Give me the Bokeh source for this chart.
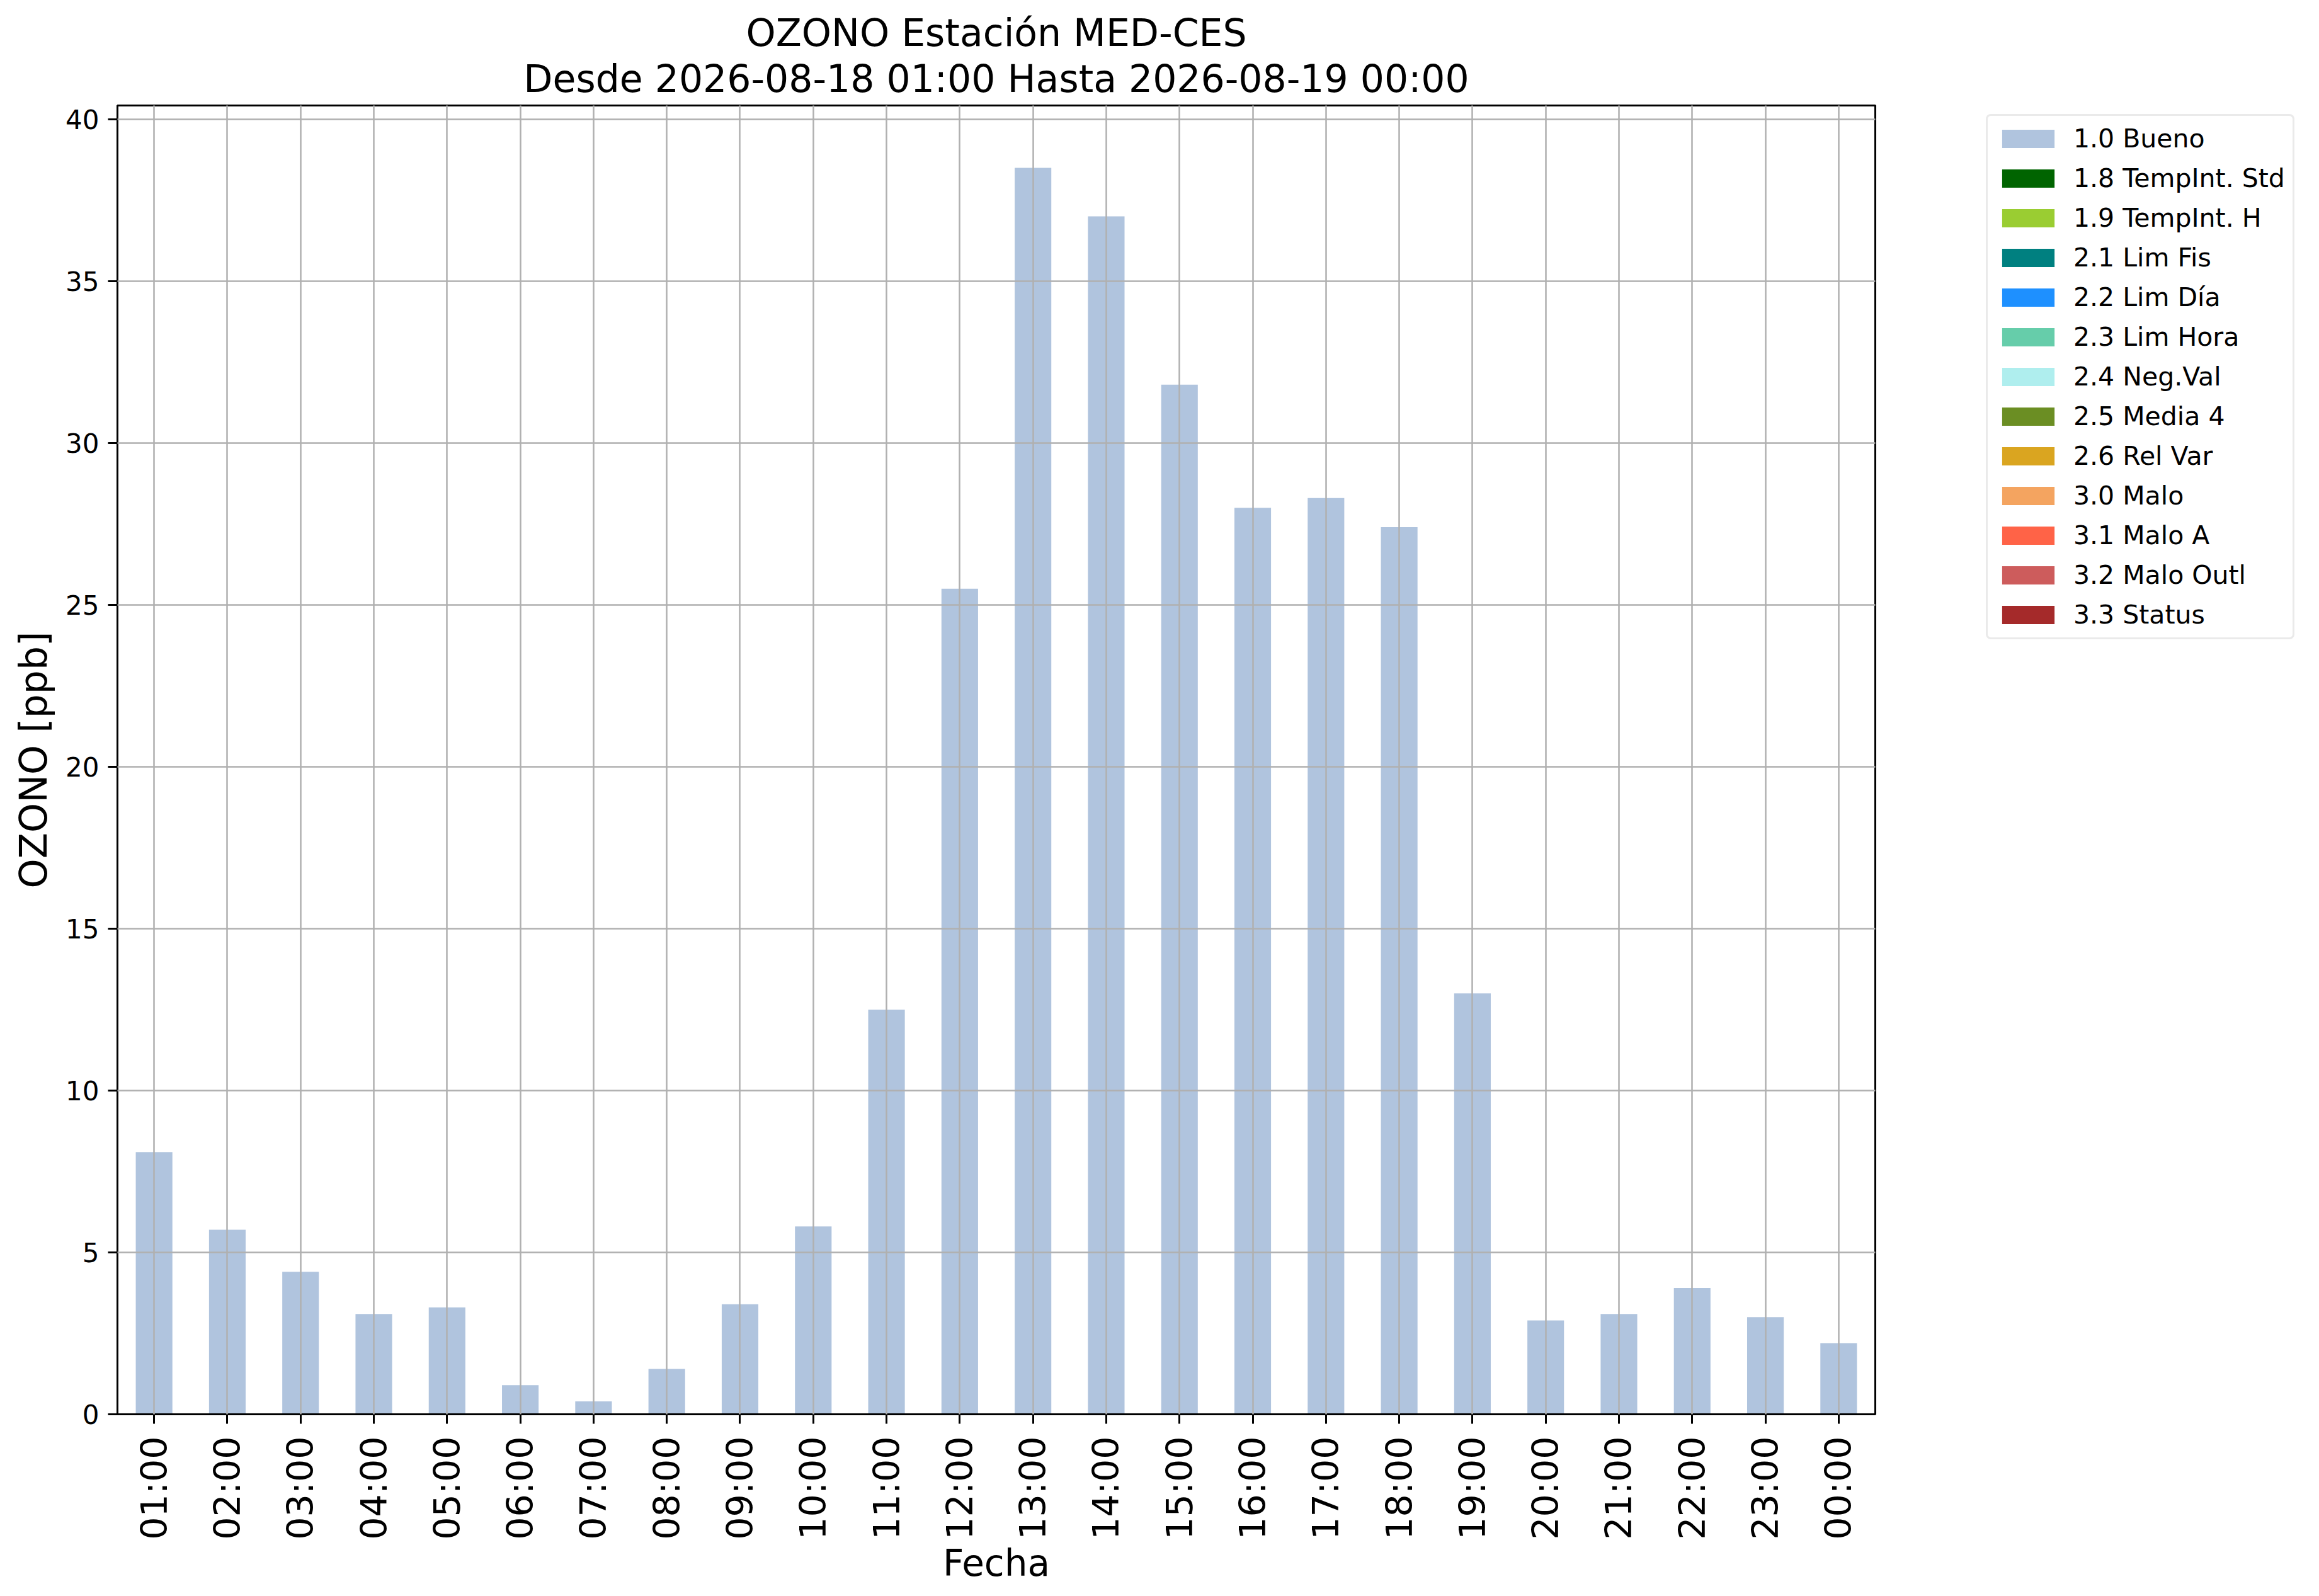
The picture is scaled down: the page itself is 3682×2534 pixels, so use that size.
import math
from bokeh.plotting import figure
from bokeh.layouts import row
from bokeh.models import FactorRange, Range1d, Legend, LegendItem, Title, FixedTicker
from bokeh.embed import file_html
from bokeh.resources import INLINE

hours = ["01:00", "02:00", "03:00", "04:00", "05:00", "06:00", "07:00", "08:00",
         "09:00", "10:00", "11:00", "12:00", "13:00", "14:00", "15:00", "16:00",
         "17:00", "18:00", "19:00", "20:00", "21:00", "22:00", "23:00", "00:00"]

bueno = [8.1, 5.7, 4.4, 3.1, 3.3, 0.9, 0.4, 1.4, 3.4, 5.8, 12.5, 25.5,
         38.5, 37.0, 31.8, 28.0, 28.3, 27.4, 13.0, 2.9, 3.1, 3.9, 3.0, 2.2]

categories = ["1.0 Bueno", "1.8 TempInt. Std", "1.9 TempInt. H", "2.1 Lim Fis",
              "2.2 Lim Día", "2.3 Lim Hora", "2.4 Neg.Val", "2.5 Media 4",
              "2.6 Rel Var", "3.0 Malo", "3.1 Malo A", "3.2 Malo Outl", "3.3 Status"]

colors = ["#B0C4DE", "#006400", "#9ACD32", "#008080", "#1E90FF", "#66CDAA",
          "#AFEEEE", "#6B8E23", "#DAA520", "#F4A460", "#FF6347", "#CD5C5C", "#A52A2A"]

# Only "1.0 Bueno" has values; the other flags are empty (zero) in this period
empty = [0.0] * len(hours)

y_ticks = [0, 5, 10, 15, 20, 25, 30, 35, 40]

FONT = "DejaVu Sans"

W, H = 3666, 2518
FL, FR, FT, FB = 186, 2977, 167, 2245   # frame edges in page pixels
PW = FR + 3                              # main figure width
p = figure(width=PW, height=H, output_backend="svg", toolbar_location=None,
           x_range=FactorRange(factors=hours, range_padding=0),
           y_range=Range1d(0, max(bueno) * 1.05),
           min_border_left=FL, min_border_right=PW - FR,
           min_border_top=FT, min_border_bottom=H - FB)

p.title.text = "OZONO Estación MED-CES"
p.title.text_font = FONT
p.title.text_font_size = "60px"
p.title.text_font_style = "normal"
p.title.text_color = "black"
p.title.align = "center"
p.title.standoff = -12
p.add_layout(Title(text="Desde 2026-08-18 01:00 Hasta 2026-08-19 00:00", text_font=FONT,
                   text_font_size="60px", text_color="black",
                   text_font_style="normal", align="center", standoff=15), "above")

data = {"x": hours}
data[categories[0]] = bueno
for c in categories[1:]:
    data[c] = empty

p.vbar_stack(categories, x="x", width=0.5, color=colors, source=data, line_color=None)

# grid above bars, as in the reference
for g in (p.xgrid, p.ygrid):
    g.grid_line_color = "#b0b0b0"
    g.grid_line_width = 2.5
    g.level = "annotation"

p.outline_line_color = "black"
p.outline_line_width = 3
p.outline_line_alpha = 1

p.yaxis.ticker = FixedTicker(ticks=y_ticks)
p.yaxis.minor_tick_line_color = None

for ax in (p.xaxis[0], p.yaxis[0]):
    ax.axis_line_color = "black"
    ax.axis_line_width = 3
    ax.major_tick_line_color = "black"
    ax.major_tick_line_width = 3
    ax.major_tick_in = 0
    ax.major_tick_out = 15
    ax.major_label_text_font = FONT
    ax.major_label_text_color = "black"
    ax.axis_label_text_font = FONT
    ax.axis_label_text_font_style = "normal"
    ax.axis_label_text_color = "black"

p.xaxis.axis_label = "Fecha"
p.xaxis.axis_label_text_font_size = "58px"
p.xaxis.major_label_text_font_size = "57px"
p.xaxis.major_label_orientation = math.pi / 2
p.xaxis.major_label_standoff = 20
p.xaxis.axis_label_standoff = 0

p.yaxis.axis_label = "OZONO [ppb]"
p.yaxis.axis_label_text_font_size = "60px"
p.yaxis.major_label_text_font_size = "42px"
p.yaxis.major_label_standoff = 14
p.yaxis.axis_label_standoff = 13

p.background_fill_color = "white"
p.border_fill_color = "white"

# ---- legend panel (separate figure to the right of the plot) ----
# Its frame is aligned with the main plot's frame (same top/bottom borders).
LW = W - PW
lf = figure(width=LW, height=H, output_backend="svg", toolbar_location=None,
            x_range=FactorRange(factors=hours), y_range=Range1d(0, 1),
            x_axis_type=None, y_axis_type=None,
            min_border_left=0, min_border_right=0,
            min_border_top=FT, min_border_bottom=H - FB)
lf.grid.visible = False
lf.outline_line_color = None
lf.background_fill_color = "white"
lf.border_fill_color = "white"

# zero-width copies of the same stacked bars: they only feed the legend swatches
legend_renderers = lf.vbar_stack(categories, x="x", width=0.0, color=colors,
                                 source=data, line_color=None)
items = [LegendItem(label=c, renderers=[r]) for c, r in zip(categories, legend_renderers)]

LEG_LEFT, LEG_BOTTOM = 3153, 1015
legend = Legend(items=items, location=(LEG_LEFT - PW, FB - LEG_BOTTOM), margin=0,
                glyph_width=104, glyph_height=36, label_height=48, spacing=15,
                label_standoff=20, padding=12,
                label_text_font=FONT, label_text_font_size="41px",
                label_text_color="black",
                border_line_color="#d6d6d6", border_line_width=3,
                background_fill_color="white", background_fill_alpha=1.0)
if "border_radius" in Legend.properties():
    legend.border_radius = 8
lf.add_layout(legend)

layout = row(p, lf, spacing=0)

open("out.html", "w").write(file_html(layout, INLINE))
